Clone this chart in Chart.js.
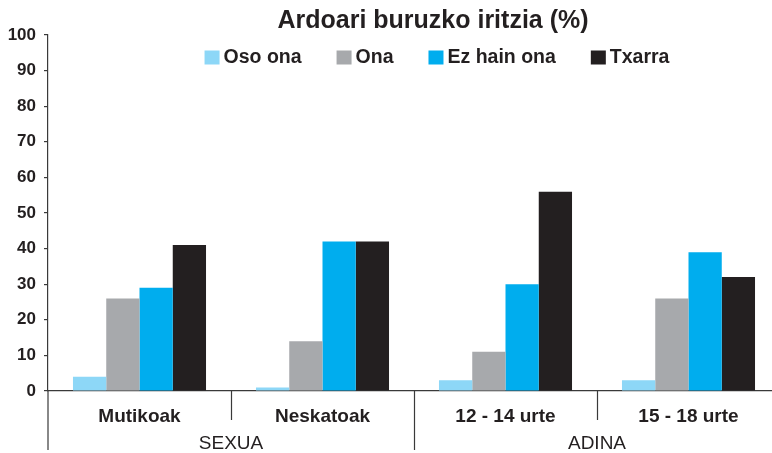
<!DOCTYPE html>
<html>
<head>
<meta charset="utf-8">
<script src="https://cdn.jsdelivr.net/npm/chart.js@4"></script>
<style>
  html, body { margin: 0; padding: 0; background: #fff; overflow: hidden; }
  #wrap { width: 866px; height: 453px; }
</style>
</head>
<body>
<div id="wrap"><canvas id="myChart"></canvas></div>
<script>
var categories = ['Mutikoak', 'Neskatoak', '12 - 14 urte', '15 - 18 urte'];
var groupLabels = ['SEXUA', 'ADINA'];
var groupSizes = [2, 2];
var seriesNames = ['Oso ona', 'Ona', 'Ez hain ona', 'Txarra'];
var osoOna = [4, 1, 3, 3];
var ona = [26, 14, 11, 26];
var ezHainOna = [29, 42, 30, 39];
var txarra = [41, 42, 56, 32];
var yTicks = [0, 10, 20, 30, 40, 50, 60, 70, 80, 90, 100];

var colors = ['#8dd7f7', '#a7a9ac', '#00adee', '#231f20'];
var font = '"Liberation Sans", Arial, Helvetica, sans-serif';
var textColor = '#231f20';
var axisColor = '#3a3a3a';

// title is centred over the whole (wider) canvas, not just up to the right padding
var titleCenter = {
    id: 'titleCenter',
    afterLayout: function(chart) {
        var t = chart.titleBlock;
        if (t) {
            t.left = 0;
            t.right = chart.width;
            t.width = chart.width;
        }
    }
};

// legend sits inside the plot area, so it is drawn here instead of the built-in box
var innerLegend = {
    id: 'innerLegend',
    afterDraw: function(chart) {
        var ctx = chart.ctx;
        var items = chart.options.plugins.legend.labels.generateLabels(chart);
        var boxW = 15, boxH = 14, gap = 4, itemGap = 35, y = 57.5;
        ctx.save();
        ctx.font = 'bold 19.5px ' + font;
        ctx.textBaseline = 'middle';
        var total = 0;
        items.forEach(function(it, i) {
            total += boxW + gap + ctx.measureText(it.text).width + (i > 0 ? itemGap : 0);
        });
        var x = chart.width / 2 + 4 - total / 2;
        items.forEach(function(it) {
            ctx.fillStyle = it.fillStyle;
            ctx.fillRect(x, y - boxH / 2, boxW, boxH);
            x += boxW + gap;
            ctx.fillStyle = textColor;
            ctx.fillText(it.text, x, y);
            x += ctx.measureText(it.text).width + itemGap;
        });
        ctx.restore();
    }
};

// category separators below the axis, longer one between the two groups
var separators = {
    id: 'separators',
    afterDraw: function(chart) {
        var ctx = chart.ctx;
        var xs = chart.scales.x;
        var area = chart.chartArea;
        ctx.save();
        ctx.strokeStyle = axisColor;
        ctx.lineWidth = 1.2;
        ctx.beginPath();
        // y axis carries on down through the label rows
        ctx.moveTo(area.left, area.bottom);
        ctx.lineTo(area.left, 450);
        var breaks = [];
        var acc = 0;
        groupSizes.forEach(function(s) { acc += s; breaks.push(acc); });
        for (var i = 1; i < categories.length; i++) {
            var px = Math.round((xs.getPixelForValue(i - 1) + xs.getPixelForValue(i)) / 2) + 0.5;
            var end = breaks.indexOf(i) >= 0 ? 450 : area.bottom + 29;
            ctx.moveTo(px, area.bottom);
            ctx.lineTo(px, end);
        }
        ctx.stroke();
        ctx.restore();
    }
};

var datasets = [osoOna, ona, ezHainOna, txarra].map(function(vals, i) {
    return {
        label: seriesNames[i],
        data: vals,
        backgroundColor: colors[i],
        borderWidth: 0,
        xAxisID: 'x',
        categoryPercentage: 0.727,
        barPercentage: 1.0
    };
});

var ctx = document.getElementById('myChart').getContext('2d');
var myChart = new Chart(ctx, {
    type: 'bar',
    data: {
        labels: categories,
        datasets: datasets
    },
    plugins: [titleCenter, innerLegend, separators],
    options: {
        responsive: true,
        maintainAspectRatio: false,
        animation: false,
        layout: { padding: { left: 0, right: 86, top: 0, bottom: 0 } },
        plugins: {
            legend: { display: false },
            tooltip: { enabled: false },
            title: {
                display: true,
                text: 'Ardoari buruzko iritzia (%)',
                color: textColor,
                font: { family: font, size: 25, weight: 'bold', lineHeight: 1.1 },
                padding: { top: 7.25, bottom: 0.25 }
            }
        },
        scales: {
            x: {
                type: 'category',
                position: 'bottom',
                weight: 0,
                grid: { display: false, drawTicks: false },
                border: { display: true, color: axisColor, width: 1.2 },
                ticks: {
                    color: textColor,
                    font: { family: font, size: 19, weight: 'bold' },
                    padding: 14.5,
                    maxRotation: 0,
                    autoSkip: false
                },
                afterFit: function(scale) { scale.height = 36; }
            },
            x2: {
                type: 'category',
                position: 'bottom',
                weight: 1,
                labels: groupLabels,
                offset: true,
                grid: { display: false, drawTicks: false },
                border: { display: false },
                ticks: {
                    color: textColor,
                    font: { family: font, size: 19 },
                    padding: 5.6,
                    maxRotation: 0,
                    autoSkip: false
                },
                afterFit: function(scale) { scale.height = 26; }
            },
            y: {
                min: 0,
                max: 100,
                afterBuildTicks: function(scale) {
                    scale.ticks = yTicks.map(function(v) { return { value: v }; });
                },
                grid: {
                    drawOnChartArea: false,
                    drawTicks: true,
                    tickLength: 4,
                    color: axisColor,
                    lineWidth: 1.2
                },
                border: { display: true, color: axisColor, width: 1.2 },
                ticks: {
                    color: textColor,
                    font: { family: font, size: 17, weight: 'bold' },
                    padding: 8
                },
                afterFit: function(scale) { scale.width = 48; }
            }
        }
    }
});
</script>
</body>
</html>
